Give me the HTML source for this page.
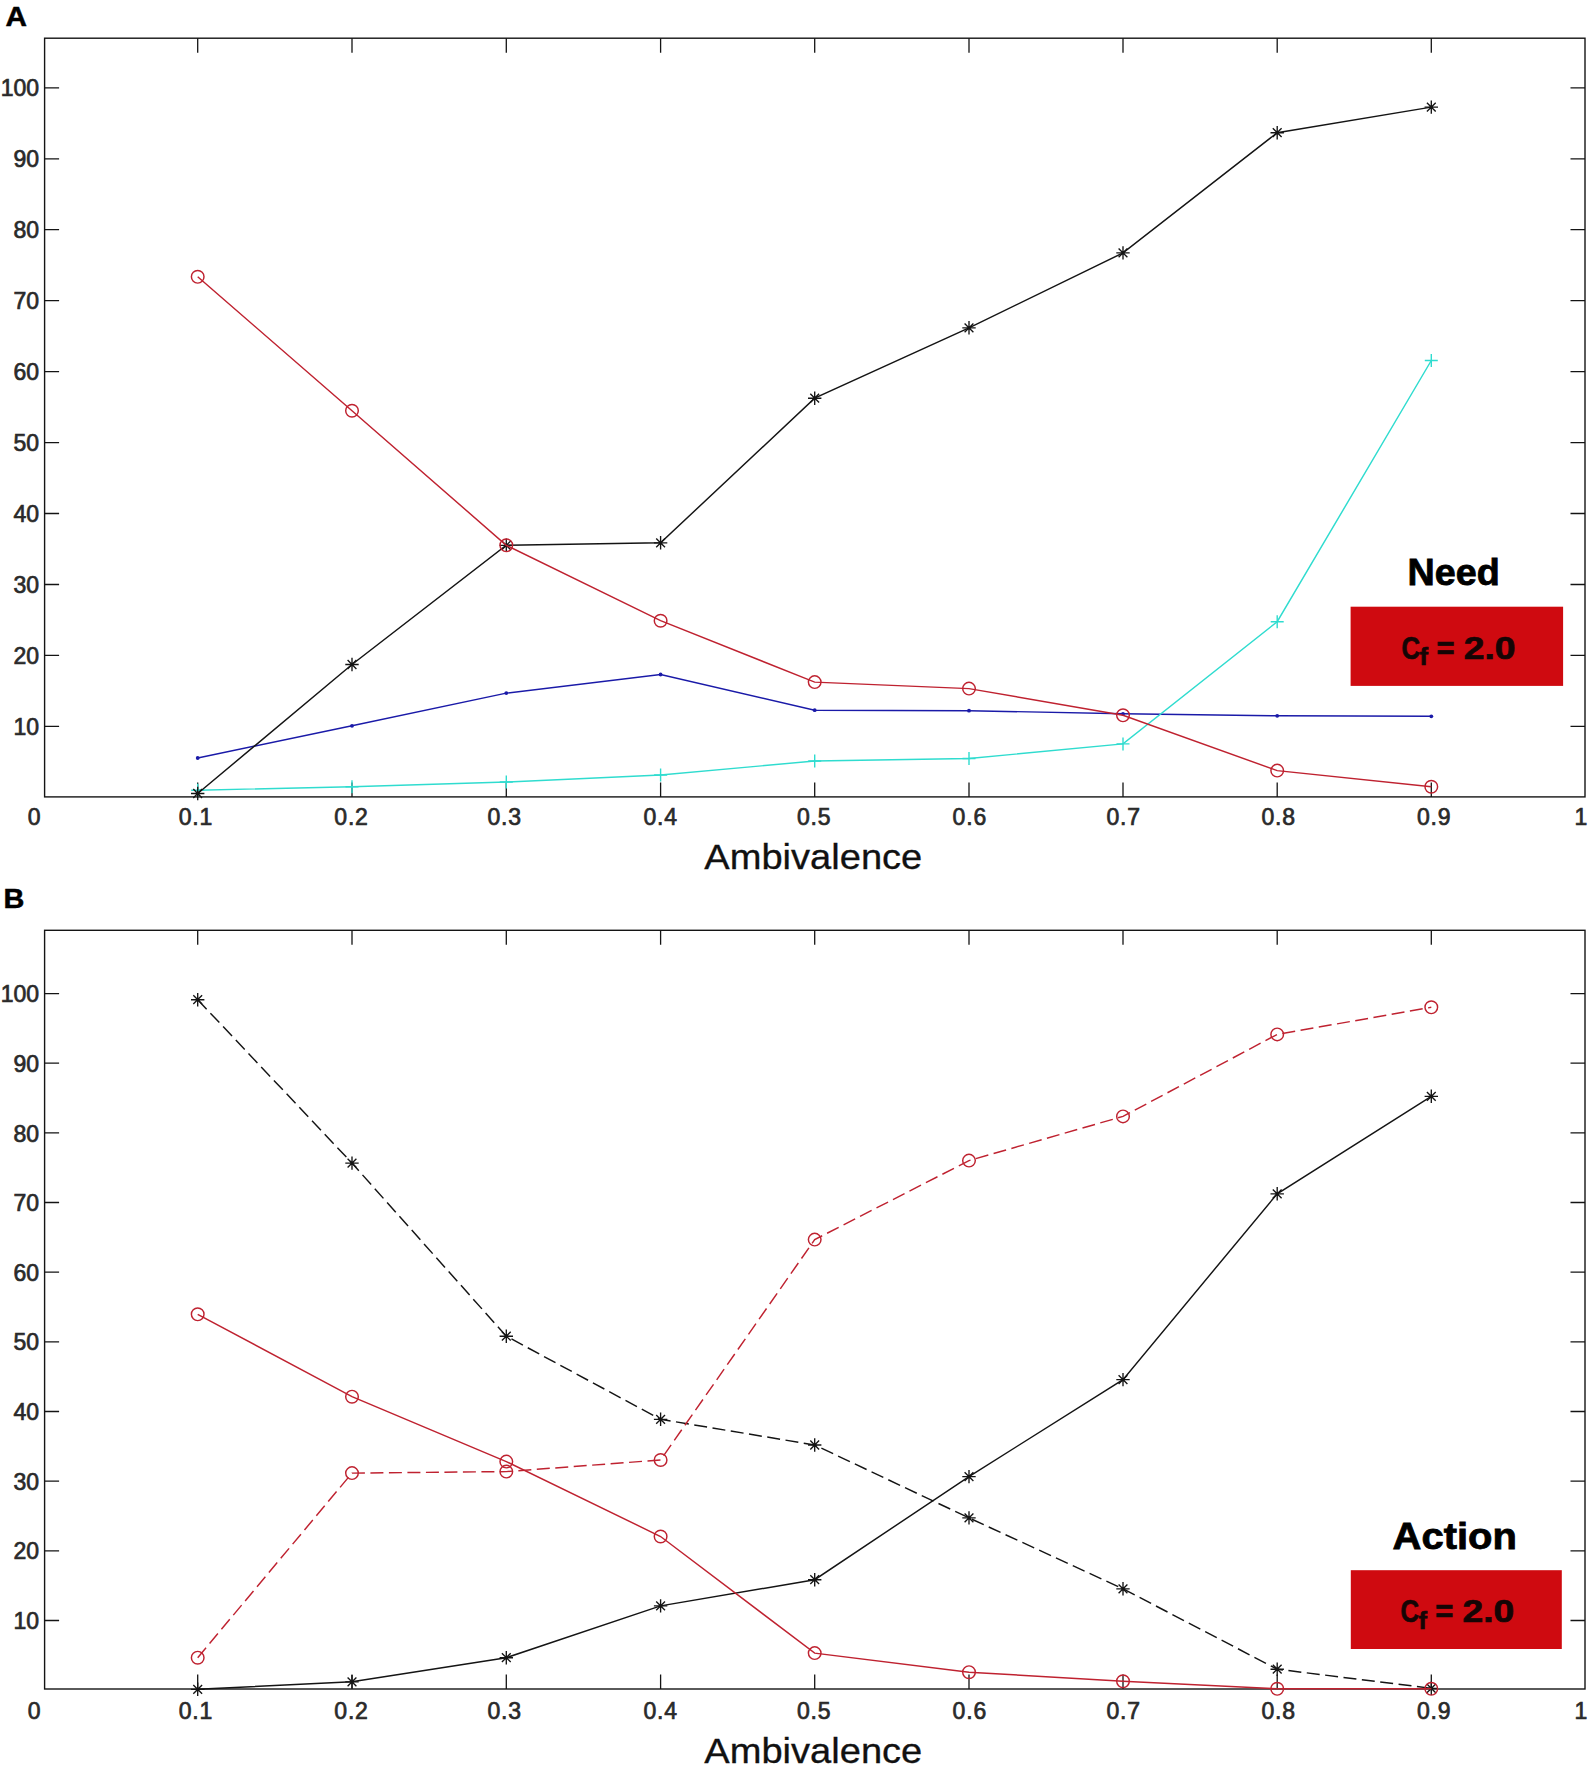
<!DOCTYPE html>
<html lang="en"><head><meta charset="utf-8"><title>Ambivalence</title>
<style>
html,body{margin:0;padding:0;background:#fff;}
body{width:1591px;height:1772px;overflow:hidden;}
svg{display:block;}
text{font-family:"Liberation Sans",sans-serif;}
.tk{font-size:23px;fill:#2a2a2a;stroke:#2a2a2a;stroke-width:0.7px;}
.pl{font-size:27.5px;font-weight:bold;fill:#000;stroke:#000;stroke-width:0.5px;}
.ax{font-size:35px;fill:#111;stroke:#111;stroke-width:0.3px;}
.hd{font-size:37px;font-weight:bold;fill:#000;stroke:#000;stroke-width:0.8px;}
.cf text{font-size:31px;font-weight:bold;fill:#150505;stroke:#150505;stroke-width:0.7px;}
.cf text.sub{font-size:23px;}
</style></head><body>
<svg width="1591" height="1772" viewBox="0 0 1591 1772">
<rect width="1591" height="1772" fill="#fff"/>
<rect x="44.6" y="38.2" width="1540.4" height="758.7" fill="none" stroke="#141414" stroke-width="1.4"/>
<path d="M197.7 38.2v14.5M197.7 796.9v-14.5M352.0 38.2v14.5M352.0 796.9v-14.5M506.3 38.2v14.5M506.3 796.9v-14.5M660.6 38.2v14.5M660.6 796.9v-14.5M814.7 38.2v14.5M814.7 796.9v-14.5M969.0 38.2v14.5M969.0 796.9v-14.5M1123.0 38.2v14.5M1123.0 796.9v-14.5M1277.2 38.2v14.5M1277.2 796.9v-14.5M1431.3 38.2v14.5M1431.3 796.9v-14.5M44.6 87.8h14.5M1585.0 87.8h-14.5M44.6 158.8h14.5M1585.0 158.8h-14.5M44.6 229.7h14.5M1585.0 229.7h-14.5M44.6 300.7h14.5M1585.0 300.7h-14.5M44.6 371.6h14.5M1585.0 371.6h-14.5M44.6 442.6h14.5M1585.0 442.6h-14.5M44.6 513.5h14.5M1585.0 513.5h-14.5M44.6 584.5h14.5M1585.0 584.5h-14.5M44.6 655.4h14.5M1585.0 655.4h-14.5M44.6 726.4h14.5M1585.0 726.4h-14.5" stroke="#141414" stroke-width="1.3" fill="none"/>
<g class="tk" text-anchor="end">
<text x="39" y="96.4">100</text>
<text x="39" y="167.3">90</text>
<text x="39" y="238.3">80</text>
<text x="39" y="309.3">70</text>
<text x="39" y="380.2">60</text>
<text x="39" y="451.2">50</text>
<text x="39" y="522.1">40</text>
<text x="39" y="593.1">30</text>
<text x="39" y="664.0">20</text>
<text x="39" y="735.0">10</text>
</g>
<g class="tk" letter-spacing="0.8">
<text x="178.7" y="825">0.1</text>
<text x="334.3" y="825">0.2</text>
<text x="487.5" y="825">0.3</text>
<text x="643.4" y="825">0.4</text>
<text x="797.0" y="825">0.5</text>
<text x="952.6" y="825">0.6</text>
<text x="1106.5" y="825">0.7</text>
<text x="1261.4" y="825">0.8</text>
<text x="1416.9" y="825">0.9</text>
</g>
<text class="tk" text-anchor="end" x="40.5" y="825">0</text>
<text class="tk" text-anchor="end" x="1587.3" y="825">1</text>
<polyline points="197.7,758.0 352.0,725.8 506.3,693.1 660.6,674.5 814.7,710.2 969.0,710.7 1123.0,713.8 1277.2,715.8 1431.3,716.3" fill="none" stroke="#1a1aa8" stroke-width="1.45"/>
<circle cx="197.7" cy="758.0" r="1.9" fill="#1a1aa8"/>
<circle cx="352.0" cy="725.8" r="1.9" fill="#1a1aa8"/>
<circle cx="506.3" cy="693.1" r="1.9" fill="#1a1aa8"/>
<circle cx="660.6" cy="674.5" r="1.9" fill="#1a1aa8"/>
<circle cx="814.7" cy="710.2" r="1.9" fill="#1a1aa8"/>
<circle cx="969.0" cy="710.7" r="1.9" fill="#1a1aa8"/>
<circle cx="1123.0" cy="713.8" r="1.9" fill="#1a1aa8"/>
<circle cx="1277.2" cy="715.8" r="1.9" fill="#1a1aa8"/>
<circle cx="1431.3" cy="716.3" r="1.9" fill="#1a1aa8"/>
<polyline points="197.7,790.2 352.0,786.7 506.3,782.0 660.6,775.0 814.7,761.0 969.0,758.5 1123.0,743.9 1277.2,621.7 1431.3,360.5" fill="none" stroke="#2fdccf" stroke-width="1.45"/>
<path d="M191.2 790.2H204.2M197.7 783.7V796.7" stroke="#2fdccf" stroke-width="1.4" fill="none"/>
<path d="M345.5 786.7H358.5M352.0 780.2V793.2" stroke="#2fdccf" stroke-width="1.4" fill="none"/>
<path d="M499.8 782.0H512.8M506.3 775.5V788.5" stroke="#2fdccf" stroke-width="1.4" fill="none"/>
<path d="M654.1 775.0H667.1M660.6 768.5V781.5" stroke="#2fdccf" stroke-width="1.4" fill="none"/>
<path d="M808.2 761.0H821.2M814.7 754.5V767.5" stroke="#2fdccf" stroke-width="1.4" fill="none"/>
<path d="M962.5 758.5H975.5M969.0 752.0V765.0" stroke="#2fdccf" stroke-width="1.4" fill="none"/>
<path d="M1116.5 743.9H1129.5M1123.0 737.4V750.4" stroke="#2fdccf" stroke-width="1.4" fill="none"/>
<path d="M1270.7 621.7H1283.7M1277.2 615.2V628.2" stroke="#2fdccf" stroke-width="1.4" fill="none"/>
<path d="M1424.8 360.5H1437.8M1431.3 354.0V367.0" stroke="#2fdccf" stroke-width="1.4" fill="none"/>
<polyline points="197.7,793.5 352.0,664.5 506.3,545.3 660.6,542.8 814.7,398.2 969.0,327.8 1123.0,252.9 1277.2,132.7 1431.3,107.1" fill="none" stroke="#141414" stroke-width="1.45"/>
<path d="M191.0 793.5H204.4M197.7 786.8V800.2M193.3 789.1L202.1 797.9M193.3 797.9L202.1 789.1" stroke="#141414" stroke-width="1.35" fill="none"/>
<path d="M345.3 664.5H358.7M352.0 657.8V671.2M347.6 660.1L356.4 668.9M347.6 668.9L356.4 660.1" stroke="#141414" stroke-width="1.35" fill="none"/>
<path d="M499.6 545.3H513.0M506.3 538.6V552.0M501.9 540.9L510.7 549.7M501.9 549.7L510.7 540.9" stroke="#141414" stroke-width="1.35" fill="none"/>
<path d="M653.9 542.8H667.3M660.6 536.1V549.5M656.2 538.4L665.0 547.2M656.2 547.2L665.0 538.4" stroke="#141414" stroke-width="1.35" fill="none"/>
<path d="M808.0 398.2H821.4M814.7 391.5V404.9M810.3 393.8L819.1 402.6M810.3 402.6L819.1 393.8" stroke="#141414" stroke-width="1.35" fill="none"/>
<path d="M962.3 327.8H975.7M969.0 321.1V334.5M964.6 323.4L973.4 332.2M964.6 332.2L973.4 323.4" stroke="#141414" stroke-width="1.35" fill="none"/>
<path d="M1116.3 252.9H1129.7M1123.0 246.2V259.6M1118.6 248.5L1127.4 257.3M1118.6 257.3L1127.4 248.5" stroke="#141414" stroke-width="1.35" fill="none"/>
<path d="M1270.5 132.7H1283.9M1277.2 126.0V139.4M1272.8 128.3L1281.6 137.1M1272.8 137.1L1281.6 128.3" stroke="#141414" stroke-width="1.35" fill="none"/>
<path d="M1424.6 107.1H1438.0M1431.3 100.4V113.8M1426.9 102.7L1435.7 111.5M1426.9 111.5L1435.7 102.7" stroke="#141414" stroke-width="1.35" fill="none"/>
<polyline points="197.7,276.8 352.0,410.7 506.3,545.3 660.6,620.7 814.7,682.1 969.0,688.6 1123.0,715.3 1277.2,770.6 1431.3,786.7" fill="none" stroke="#bf2230" stroke-width="1.45"/>
<circle cx="197.7" cy="276.8" r="6.3" fill="none" stroke="#bf2230" stroke-width="1.45"/>
<circle cx="352.0" cy="410.7" r="6.3" fill="none" stroke="#bf2230" stroke-width="1.45"/>
<circle cx="506.3" cy="545.3" r="6.3" fill="none" stroke="#bf2230" stroke-width="1.45"/>
<circle cx="660.6" cy="620.7" r="6.3" fill="none" stroke="#bf2230" stroke-width="1.45"/>
<circle cx="814.7" cy="682.1" r="6.3" fill="none" stroke="#bf2230" stroke-width="1.45"/>
<circle cx="969.0" cy="688.6" r="6.3" fill="none" stroke="#bf2230" stroke-width="1.45"/>
<circle cx="1123.0" cy="715.3" r="6.3" fill="none" stroke="#bf2230" stroke-width="1.45"/>
<circle cx="1277.2" cy="770.6" r="6.3" fill="none" stroke="#bf2230" stroke-width="1.45"/>
<circle cx="1431.3" cy="786.7" r="6.3" fill="none" stroke="#bf2230" stroke-width="1.45"/>
<rect x="44.6" y="930.3" width="1540.4" height="758.7" fill="none" stroke="#141414" stroke-width="1.4"/>
<path d="M197.7 930.3v14.5M197.7 1689.0v-14.5M352.0 930.3v14.5M352.0 1689.0v-14.5M506.3 930.3v14.5M506.3 1689.0v-14.5M660.6 930.3v14.5M660.6 1689.0v-14.5M814.7 930.3v14.5M814.7 1689.0v-14.5M969.0 930.3v14.5M969.0 1689.0v-14.5M1123.0 930.3v14.5M1123.0 1689.0v-14.5M1277.2 930.3v14.5M1277.2 1689.0v-14.5M1431.3 930.3v14.5M1431.3 1689.0v-14.5M44.6 993.6h14.5M1585.0 993.6h-14.5M44.6 1063.2h14.5M1585.0 1063.2h-14.5M44.6 1132.9h14.5M1585.0 1132.9h-14.5M44.6 1202.5h14.5M1585.0 1202.5h-14.5M44.6 1272.2h14.5M1585.0 1272.2h-14.5M44.6 1341.8h14.5M1585.0 1341.8h-14.5M44.6 1411.5h14.5M1585.0 1411.5h-14.5M44.6 1481.2h14.5M1585.0 1481.2h-14.5M44.6 1550.8h14.5M1585.0 1550.8h-14.5M44.6 1620.5h14.5M1585.0 1620.5h-14.5" stroke="#141414" stroke-width="1.3" fill="none"/>
<g class="tk" text-anchor="end">
<text x="39" y="1002.2">100</text>
<text x="39" y="1071.8">90</text>
<text x="39" y="1141.5">80</text>
<text x="39" y="1211.1">70</text>
<text x="39" y="1280.8">60</text>
<text x="39" y="1350.4">50</text>
<text x="39" y="1420.1">40</text>
<text x="39" y="1489.8">30</text>
<text x="39" y="1559.4">20</text>
<text x="39" y="1629.0">10</text>
</g>
<g class="tk" letter-spacing="0.8">
<text x="178.7" y="1719.3">0.1</text>
<text x="334.3" y="1719.3">0.2</text>
<text x="487.5" y="1719.3">0.3</text>
<text x="643.4" y="1719.3">0.4</text>
<text x="797.0" y="1719.3">0.5</text>
<text x="952.6" y="1719.3">0.6</text>
<text x="1106.5" y="1719.3">0.7</text>
<text x="1261.4" y="1719.3">0.8</text>
<text x="1416.9" y="1719.3">0.9</text>
</g>
<text class="tk" text-anchor="end" x="40.5" y="1719.3">0</text>
<text class="tk" text-anchor="end" x="1587.3" y="1719.3">1</text>
<polyline points="197.7,999.7 352.0,1163.1 506.3,1336.2 660.6,1419.3 814.7,1445.0 969.0,1517.9 1123.0,1588.8 1277.2,1669.2 1431.3,1688.3" fill="none" stroke="#141414" stroke-width="1.45" stroke-dasharray="13 5.5"/>
<path d="M191.0 999.7H204.4M197.7 993.0V1006.4M193.3 995.3L202.1 1004.1M193.3 1004.1L202.1 995.3" stroke="#141414" stroke-width="1.35" fill="none"/>
<path d="M345.3 1163.1H358.7M352.0 1156.4V1169.8M347.6 1158.7L356.4 1167.5M347.6 1167.5L356.4 1158.7" stroke="#141414" stroke-width="1.35" fill="none"/>
<path d="M499.6 1336.2H513.0M506.3 1329.5V1342.9M501.9 1331.8L510.7 1340.6M501.9 1340.6L510.7 1331.8" stroke="#141414" stroke-width="1.35" fill="none"/>
<path d="M653.9 1419.3H667.3M660.6 1412.6V1426.0M656.2 1414.9L665.0 1423.7M656.2 1423.7L665.0 1414.9" stroke="#141414" stroke-width="1.35" fill="none"/>
<path d="M808.0 1445.0H821.4M814.7 1438.3V1451.7M810.3 1440.6L819.1 1449.4M810.3 1449.4L819.1 1440.6" stroke="#141414" stroke-width="1.35" fill="none"/>
<path d="M962.3 1517.9H975.7M969.0 1511.2V1524.6M964.6 1513.5L973.4 1522.3M964.6 1522.3L973.4 1513.5" stroke="#141414" stroke-width="1.35" fill="none"/>
<path d="M1116.3 1588.8H1129.7M1123.0 1582.1V1595.5M1118.6 1584.4L1127.4 1593.2M1118.6 1593.2L1127.4 1584.4" stroke="#141414" stroke-width="1.35" fill="none"/>
<path d="M1270.5 1669.2H1283.9M1277.2 1662.5V1675.9M1272.8 1664.8L1281.6 1673.6M1272.8 1673.6L1281.6 1664.8" stroke="#141414" stroke-width="1.35" fill="none"/>
<path d="M1424.6 1688.3H1438.0M1431.3 1681.6V1695.0M1426.9 1683.9L1435.7 1692.7M1426.9 1692.7L1435.7 1683.9" stroke="#141414" stroke-width="1.35" fill="none"/>
<polyline points="197.7,1689.3 352.0,1681.8 506.3,1657.7 660.6,1605.9 814.7,1579.7 969.0,1476.6 1123.0,1379.6 1277.2,1193.8 1431.3,1096.3" fill="none" stroke="#141414" stroke-width="1.45"/>
<path d="M191.0 1689.3H204.4M197.7 1682.6V1696.0M193.3 1684.9L202.1 1693.7M193.3 1693.7L202.1 1684.9" stroke="#141414" stroke-width="1.35" fill="none"/>
<path d="M345.3 1681.8H358.7M352.0 1675.1V1688.5M347.6 1677.4L356.4 1686.2M347.6 1686.2L356.4 1677.4" stroke="#141414" stroke-width="1.35" fill="none"/>
<path d="M499.6 1657.7H513.0M506.3 1651.0V1664.4M501.9 1653.3L510.7 1662.1M501.9 1662.1L510.7 1653.3" stroke="#141414" stroke-width="1.35" fill="none"/>
<path d="M653.9 1605.9H667.3M660.6 1599.2V1612.6M656.2 1601.5L665.0 1610.3M656.2 1610.3L665.0 1601.5" stroke="#141414" stroke-width="1.35" fill="none"/>
<path d="M808.0 1579.7H821.4M814.7 1573.0V1586.4M810.3 1575.3L819.1 1584.1M810.3 1584.1L819.1 1575.3" stroke="#141414" stroke-width="1.35" fill="none"/>
<path d="M962.3 1476.6H975.7M969.0 1469.9V1483.3M964.6 1472.2L973.4 1481.0M964.6 1481.0L973.4 1472.2" stroke="#141414" stroke-width="1.35" fill="none"/>
<path d="M1116.3 1379.6H1129.7M1123.0 1372.9V1386.3M1118.6 1375.2L1127.4 1384.0M1118.6 1384.0L1127.4 1375.2" stroke="#141414" stroke-width="1.35" fill="none"/>
<path d="M1270.5 1193.8H1283.9M1277.2 1187.1V1200.5M1272.8 1189.4L1281.6 1198.2M1272.8 1198.2L1281.6 1189.4" stroke="#141414" stroke-width="1.35" fill="none"/>
<path d="M1424.6 1096.3H1438.0M1431.3 1089.6V1103.0M1426.9 1091.9L1435.7 1100.7M1426.9 1100.7L1435.7 1091.9" stroke="#141414" stroke-width="1.35" fill="none"/>
<polyline points="197.7,1657.7 352.0,1473.1 506.3,1471.6 660.6,1460.0 814.7,1239.6 969.0,1160.6 1123.0,1116.4 1277.2,1034.4 1431.3,1007.3" fill="none" stroke="#bf2230" stroke-width="1.45" stroke-dasharray="13 5.5"/>
<circle cx="197.7" cy="1657.7" r="6.3" fill="none" stroke="#bf2230" stroke-width="1.45"/>
<circle cx="352.0" cy="1473.1" r="6.3" fill="none" stroke="#bf2230" stroke-width="1.45"/>
<circle cx="506.3" cy="1471.6" r="6.3" fill="none" stroke="#bf2230" stroke-width="1.45"/>
<circle cx="660.6" cy="1460.0" r="6.3" fill="none" stroke="#bf2230" stroke-width="1.45"/>
<circle cx="814.7" cy="1239.6" r="6.3" fill="none" stroke="#bf2230" stroke-width="1.45"/>
<circle cx="969.0" cy="1160.6" r="6.3" fill="none" stroke="#bf2230" stroke-width="1.45"/>
<circle cx="1123.0" cy="1116.4" r="6.3" fill="none" stroke="#bf2230" stroke-width="1.45"/>
<circle cx="1277.2" cy="1034.4" r="6.3" fill="none" stroke="#bf2230" stroke-width="1.45"/>
<circle cx="1431.3" cy="1007.3" r="6.3" fill="none" stroke="#bf2230" stroke-width="1.45"/>
<polyline points="197.7,1314.3 352.0,1396.7 506.3,1461.6 660.6,1536.5 814.7,1653.1 969.0,1672.2 1123.0,1681.3 1277.2,1688.8 1431.3,1688.8" fill="none" stroke="#bf2230" stroke-width="1.45"/>
<circle cx="197.7" cy="1314.3" r="6.3" fill="none" stroke="#bf2230" stroke-width="1.45"/>
<circle cx="352.0" cy="1396.7" r="6.3" fill="none" stroke="#bf2230" stroke-width="1.45"/>
<circle cx="506.3" cy="1461.6" r="6.3" fill="none" stroke="#bf2230" stroke-width="1.45"/>
<circle cx="660.6" cy="1536.5" r="6.3" fill="none" stroke="#bf2230" stroke-width="1.45"/>
<circle cx="814.7" cy="1653.1" r="6.3" fill="none" stroke="#bf2230" stroke-width="1.45"/>
<circle cx="969.0" cy="1672.2" r="6.3" fill="none" stroke="#bf2230" stroke-width="1.45"/>
<circle cx="1123.0" cy="1681.3" r="6.3" fill="none" stroke="#bf2230" stroke-width="1.45"/>
<circle cx="1277.2" cy="1688.8" r="6.3" fill="none" stroke="#bf2230" stroke-width="1.45"/>
<circle cx="1431.3" cy="1688.8" r="6.3" fill="none" stroke="#bf2230" stroke-width="1.45"/>
<text class="pl" transform="translate(5.4,26.2) scale(1.08,1)">A</text>
<text class="pl" transform="translate(3.6,908.1) scale(1.05,1)">B</text>
<text class="ax" x="704.3" y="869.3" textLength="218" lengthAdjust="spacingAndGlyphs">Ambivalence</text>
<text class="ax" x="704.3" y="1763.4" textLength="218" lengthAdjust="spacingAndGlyphs">Ambivalence</text>
<text class="hd" transform="translate(1453.7,584.8) scale(1.02,1)" text-anchor="middle">Need</text>
<text class="hd" transform="translate(1392.6,1549.2) scale(1.08,1)">Action</text>
<rect x="1350.6" y="606.7" width="212.5" height="79.2" fill="#cf0a10"/>
<rect x="1350.8" y="1570.2" width="211" height="78.8" fill="#cf0a10"/>
<g class="cf" transform="translate(0,0)"><text transform="translate(1401.6,658.6) scale(0.83,1)">C</text><text class="sub" transform="translate(1419.6,665.4) scale(1.1,1)">f</text><text transform="translate(1436.5,658.6)">=</text><text transform="translate(1463.8,658.6) scale(1.2,1)">2.0</text></g>
<g class="cf" transform="translate(-1.2,963.3)"><text transform="translate(1401.6,658.6) scale(0.83,1)">C</text><text class="sub" transform="translate(1419.6,665.4) scale(1.1,1)">f</text><text transform="translate(1436.5,658.6)">=</text><text transform="translate(1463.8,658.6) scale(1.2,1)">2.0</text></g>
</svg>
</body></html>
